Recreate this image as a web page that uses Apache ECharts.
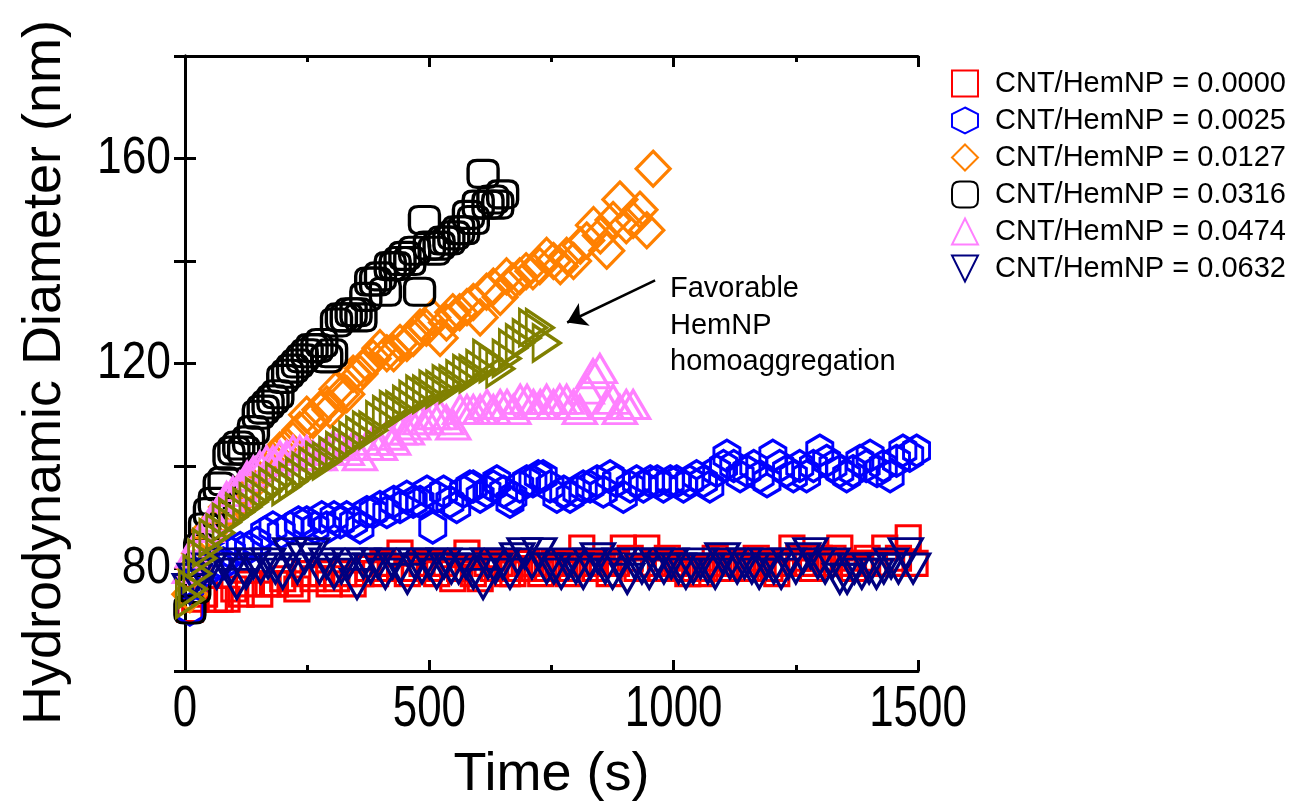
<!DOCTYPE html>
<html><head><meta charset="utf-8">
<script src="https://cdn.jsdelivr.net/npm/echarts@6/dist/echarts.min.js"></script>
<style>html,body{margin:0;padding:0;background:#fff}#c{width:1295px;height:811px}</style>
</head><body><div id="c"></div>
<script>
// ---- data (time s, hydrodynamic diameter nm) ----
const seriesNames = ['CNT/HemNP = 0.0000','CNT/HemNP = 0.0025','CNT/HemNP = 0.0127','CNT/HemNP = 0.0316','CNT/HemNP = 0.0474','CNT/HemNP = 0.0632'];
const xTicks = [0, 500, 1000, 1500];
const yTicks = [80, 120, 160];

const r0000 = [[10,72],[20,74],[40,75],[60,74],[72,74],[86,74],[100,76],[115,75],[130,77],[153,75],[170,77],[185,77],[200,78],[215,77],[229,76],[245,79],[262,78],[280,79],[295,77],[310,78],[325,79],[344,77],[360,79],[375,80],[390,79],[405,81],[420,80],[440,83],[455,79],[470,80],[485,81],[500,80],[515,79],[530,81],[548,78],[562,80],[577,83],[590,79],[604,78],[618,81],[631,80],[645,81],[660,79],[671,79],[685,80],[700,81],[714,80],[728,79],[742,80],[756,81],[770,80],[784,79],[798,81],[812,84],[826,81],[840,80],[854,81],[868,79],[883,81],[897,84],[911,82],[925,80],[945,84],[959,81],[973,80],[987,82],[1001,81],[1015,80],[1029,79],[1043,80],[1057,79],[1071,80],[1085,82],[1099,81],[1113,80],[1127,81],[1141,80],[1155,80],[1169,82],[1183,81],[1197,80],[1211,79],[1225,81],[1242,84],[1256,82],[1270,81],[1284,80],[1298,82],[1312,81],[1326,82],[1340,84],[1354,81],[1368,80],[1382,81],[1396,82],[1410,81],[1432,84],[1446,81],[1460,82],[1480,86],[1494,81]];

const r0025 = [[10,72],[16,77],[30,79],[51,80],[65,81],[78,81],[95,83],[113,84],[130,84],[147,85],[163,87],[180,88],[197,87],[215,88],[232,89],[249,89],[266,88],[280,90],[290,88],[305,90],[318,89],[331,90],[345,89],[358,88],[372,91],[385,91],[399,92],[413,91],[427,93],[440,92],[454,94],[467,93],[481,93],[495,95],[507,88],[515,94],[529,95],[542,93],[556,92],[570,95],[583,96],[590,96],[604,94],[618,95],[631,96],[638,97],[652,95],[665,93],[671,94],[685,96],[699,97],[712,97],[723,98],[733,98],[747,96],[761,94],[775,95],[788,94],[802,95],[815,96],[829,96],[843,97],[856,95],[870,98],[883,97],[897,94],[911,96],[924,97],[938,96],[952,97],[966,97],[979,96],[993,97],[1006,97],[1020,96],[1033,97],[1047,98],[1061,97],[1074,96],[1088,99],[1102,100],[1109,102],[1123,100],[1136,98],[1150,99],[1164,100],[1177,98],[1191,97],[1203,102],[1217,100],[1231,99],[1245,98],[1258,100],[1272,98],[1286,100],[1299,103],[1313,101],[1326,100],[1340,99],[1354,98],[1367,99],[1381,101],[1394,100],[1402,102],[1416,99],[1429,100],[1443,98],[1456,101],[1469,103],[1483,102],[1497,103]];

const r0127 = [[10,75],[20,80],[30,83],[45,87],[60,88],[72,90],[85,92],[98,92],[110,94],[122,96],[133,96],[145,98],[157,99],[167,100],[180,101],[194,103],[207,104],[221,105],[235,107],[249,110],[262,109],[276,111],[290,112],[297,111],[311,115],[320,114],[331,114],[344,118],[358,118],[364,119],[372,120],[385,121],[399,123],[413,122],[427,122],[440,124],[454,124],[467,125],[481,127],[494,127],[507,129],[522,125],[535,128],[548,130],[562,130],[577,131],[590,132],[604,129],[617,134],[631,135],[645,133],[658,137],[671,136],[685,137],[698,138],[712,138],[726,139],[740,141],[754,140],[768,139],[781,141],[795,140],[809,143],[822,144],[836,147],[850,145],[863,142],[876,148],[890,152],[903,147],[917,148],[931,150],[945,146],[958,158]];

const r0316 = [[10,72],[20,76],[30,84],[40,88],[50,91],[60,93],[70,96],[80,97],[90,102],[100,103],[110,104],[120,103],[130,105],[140,107],[150,110],[160,111],[170,112],[180,113],[190,114],[200,117],[210,118],[220,119],[230,120],[240,121],[250,122],[260,123],[270,123],[280,124],[290,121],[300,122],[310,128],[320,129],[330,129],[340,130],[350,130],[360,129],[370,133],[380,136],[390,136],[400,137],[410,134],[420,139],[430,139],[440,140],[450,141],[460,140],[470,142],[480,134],[490,148],[500,143],[510,142],[520,143],[530,144],[540,144],[550,145],[560,146],[570,146],[580,149],[590,148],[600,151],[610,157],[620,151],[630,152],[640,151],[650,153]];

const r0474 = [[10,80],[16,83],[31,86],[45,88],[57,90],[72,92],[85,94],[98,95],[112,96],[127,98],[140,99],[153,100],[167,101],[180,101],[194,102],[208,102],[221,103],[235,103],[249,103],[262,102],[276,102],[290,103],[303,104],[317,104],[331,103],[344,104],[358,102],[372,104],[385,105],[399,104],[413,106],[426,105],[440,107],[454,107],[467,108],[481,109],[495,109],[508,110],[522,110],[535,109],[549,108],[563,111],[577,111],[590,111],[604,111],[618,112],[631,111],[645,112],[659,112],[672,111],[686,113],[700,113],[713,112],[727,112],[740,113],[754,112],[767,113],[781,113],[795,112],[808,111],[822,115],[835,118],[849,119],[863,112],[876,113],[890,111],[903,112],[917,112]];

const r0632 = [[10,76],[20,78],[35,79],[50,80],[65,79],[80,81],[95,80],[106,77],[125,79],[140,81],[155,80],[170,81],[185,80],[200,79],[215,83],[230,80],[245,82],[260,83],[275,80],[290,81],[305,79],[320,80],[335,81],[352,77],[365,81],[380,80],[395,81],[410,79],[425,81],[440,80],[455,78],[470,81],[485,80],[500,81],[515,79],[530,81],[545,80],[560,80],[575,81],[590,79],[610,77],[620,81],[635,80],[650,81],[665,79],[680,82],[695,83],[710,81],[725,83],[740,80],[755,80],[770,79],[785,81],[800,80],[815,79],[830,81],[845,82],[860,80],[875,79],[890,81],[905,78],[920,81],[935,80],[950,79],[965,81],[980,80],[995,81],[1010,80],[1025,79],[1040,80],[1055,81],[1070,80],[1085,79],[1100,82],[1115,81],[1130,80],[1145,81],[1160,80],[1175,79],[1190,81],[1205,80],[1220,79],[1235,81],[1250,80],[1265,82],[1280,83],[1295,81],[1310,80],[1325,81],[1340,78],[1355,78],[1370,80],[1385,79],[1400,80],[1415,79],[1430,80],[1445,81],[1460,80],[1475,83],[1490,80]];

const rHomo = [[10,74],[16,76],[25,79],[35,82],[45,84],[58,86],[72,87],[85,89],[98,90],[112,91],[127,92],[140,93],[153,94],[167,95],[180,96],[194,97],[207,96],[221,97],[235,98],[248,99],[262,100],[276,101],[290,101],[303,102],[317,103],[331,104],[344,105],[358,106],[372,107],[385,107],[399,109],[413,110],[427,111],[440,111],[454,112],[467,113],[481,114],[495,114],[508,115],[522,115],[535,116],[549,116],[563,117],[577,118],[590,118],[604,119],[618,121],[631,120],[645,119],[658,121],[671,123],[685,124],[699,125],[712,127],[726,127],[740,124]];

const colors = ['#FF0000','#0000FF','#FF8000','#000000','#FF80FF','#000080'];
const oliveColor = '#808000';

const HEX = 'path://M0.5,0 L1,0.25 L1,0.75 L0.5,1 L0,0.75 L0,0.25 Z';
const RSQ = 'path://M0.3,0 L0.7,0 Q1,0 1,0.3 L1,0.7 Q1,1 0.7,1 L0.3,1 Q0,1 0,0.7 L0,0.3 Q0,0 0.3,0 Z';
const TRI_UP = 'path://M0.5,0 L1,1 L0,1 Z';
const TRI_DN = 'path://M0,0 L1,0 L0.5,1 Z';
const TRI_RT = 'path://M0,0 L1,0.5 L0,1 Z';

function sc(name, data, symbol, size, color) {
  return {
    type: 'scatter', name: name, data: data, symbol: symbol, symbolSize: size,
    itemStyle: { color: 'rgba(0,0,0,0)', borderColor: color, borderWidth: 3.2, opacity: 1 },
    emphasis: { disabled: true }, silent: true
  };
}

const FONT = 'Liberation Sans, Arial, sans-serif';

const series = [
  sc(seriesNames[0], r0000, 'rect', [24, 24], colors[0]),
  sc(seriesNames[1], r0025, HEX, [26, 31], colors[1]),
  sc(seriesNames[2], r0127, 'diamond', [34, 35], colors[2]),
  sc(seriesNames[3], r0316, RSQ, [30, 27], colors[3]),
  sc(seriesNames[4], r0474, TRI_UP, [33, 28], colors[4]),
  sc(seriesNames[5], r0632, TRI_DN, [33, 29], colors[5]),
  sc('homoaggregation', rHomo, TRI_RT, [27, 36], oliveColor)
];
series[6].markLine = {
  silent: true, symbol: ['none', 'arrow'], symbolSize: 19,
  label: { show: false },
  lineStyle: { color: '#000', width: 2.5, type: 'solid', opacity: 1 },
  data: [[{ coord: [962, 136.2] }, { coord: [782, 128] }]]
};

const axisLineStyle = { show: true, lineStyle: { color: '#000', width: 3 } };
const tickStyle = { show: true, inside: true, length: 11, lineStyle: { color: '#000', width: 3 } };
const minorStyle = { show: true, splitNumber: 2, length: 6, lineStyle: { color: '#000', width: 3 } };

const option = {
  animation: false,
  backgroundColor: '#fff',
  grid: { left: 185, right: 377, top: 56, bottom: 140, containLabel: false },
  legend: {
    data: seriesNames,
    orient: 'vertical', left: 946, top: 64,
    itemWidth: 26, itemHeight: 26, itemGap: 8,
    textStyle: { fontFamily: FONT, fontSize: 29, color: '#000', padding: [0, 0, 0, 12] },
    selectedMode: false
  },
  xAxis: [
    {
      type: 'value', min: 0, max: 1500, interval: 500, position: 'bottom',
      name: 'Time (s)', nameLocation: 'middle', nameGap: 77,
      nameTextStyle: { fontFamily: FONT, fontSize: 54, color: '#000' },
      axisLine: axisLineStyle, axisTick: tickStyle, minorTick: minorStyle,
      axisLabel: { fontFamily: FONT, fontSize: 57, color: '#000', margin: 11,
        formatter: v => xTicks.includes(v) ? String(v) : '' },
      splitLine: { show: false }
    },
    {
      type: 'value', min: 0, max: 1500, interval: 500, position: 'top',
      axisLine: axisLineStyle, axisTick: tickStyle, minorTick: minorStyle,
      axisLabel: { show: false }, splitLine: { show: false }
    }
  ],
  yAxis: [
    {
      type: 'value', min: 60, max: 180, interval: 20, position: 'left',
      name: 'Hydrodynamic Diameter (nm)', nameLocation: 'middle', nameGap: 113,
      nameTextStyle: { fontFamily: FONT, fontSize: 54, color: '#000', padding: [0, 18, 0, 0] },
      axisLine: axisLineStyle, axisTick: tickStyle,
      axisLabel: { fontFamily: FONT, fontSize: 51, color: '#000', margin: 14,
        formatter: v => yTicks.includes(v) ? String(v) : '' },
      splitLine: { show: false }
    },
    {
      type: 'value', min: 60, max: 180, interval: 20, position: 'right',
      axisLine: axisLineStyle, axisTick: tickStyle,
      axisLabel: { show: false }, splitLine: { show: false }
    }
  ],
  graphic: [
    {
      type: 'text', left: 670, top: 271, silent: true,
      style: { text: 'Favorable\nHemNP\nhomoaggregation', fontFamily: FONT, fontSize: 29,
        lineHeight: 36.5, fill: '#000' }
    }
  ],
  series: series
};

const chart = echarts.init(document.getElementById('c'), null, { renderer: 'canvas' });
chart.setOption(option);

// Narrow the tick-label glyphs horizontally (the original uses a condensed face)
(function condenseTickLabels() {
  const zr = chart.getZr();
  const xs = xTicks.map(String), ys = yTicks.map(String);
  zr.storage.traverse(function (el) {
    if (el.type !== 'text' || !el.style) return;
    const t = el.style.text, fs = el.style.fontSize;
    if ((fs === 57 || fs === '57') && xs.includes(t)) { el.scaleX = 0.77; el.markRedraw(); }
    else if ((fs === 51 || fs === '51') && ys.includes(t)) { el.scaleX = 0.87; el.markRedraw(); }
  });
  zr.refreshImmediately();
})();
</script>
</body></html>
